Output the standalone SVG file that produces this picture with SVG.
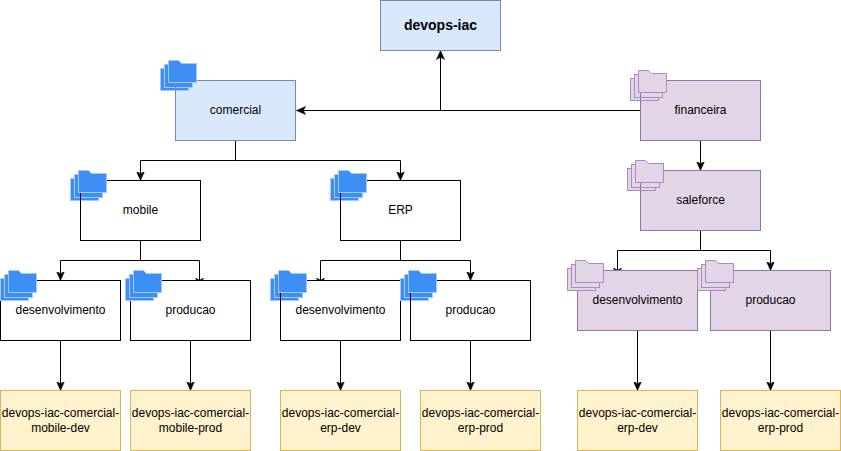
<svg xmlns="http://www.w3.org/2000/svg" width="841" height="451" viewBox="0 0 841 451">
<style>
text{font-family:"Liberation Sans",Arial,sans-serif;font-size:12px;fill:#000;text-anchor:middle}
.title{font-weight:bold;font-size:14px}
.plain{fill:#fff;stroke:#000}
.blue{fill:#dae8fc;stroke:#6c8ebf}
.purple{fill:#e1d5e7;stroke:#9673a6}
.yellow{fill:#fff2cc;stroke:#d6b656}
.outline{fill:none;stroke:#000}
.outline-blue{fill:none;stroke:#6c8ebf}
.outline-purple{fill:none;stroke:#9673a6}
.edge{fill:none;stroke:#000;stroke-width:1}
.fb{fill:#3d8ef5;stroke:#a3c9fa;stroke-width:1}
.fp{fill:#e1d5e7;stroke:#a98cb9;stroke-width:1}
</style>
<defs>
<marker id="arrow" markerUnits="userSpaceOnUse" markerWidth="10" markerHeight="10" refX="9" refY="4.5" orient="auto">
<path d="M9 4.5L0 0.5L2.2 4.5L0 8.5Z" fill="#000" stroke="#000" stroke-width="0.5"/>
</marker>
<g id="back"><rect x="0.5" y="8.5" width="28" height="22"/><rect x="4.5" y="4.5" width="28" height="23"/></g>
<path id="top" d="M8.5 0.5H18.5L21.5 3.5H36.5V22.5H8.5Z"/>
</defs>
<g id="connectors">
<path class="edge" marker-end="url(#arrow)" d="M640.5 110.5H296.5"/>
<path class="edge" marker-end="url(#arrow)" d="M440.5 110.5V50.5"/>
<path class="edge" marker-end="url(#arrow)" d="M700.5 140.5V170.5"/>
<path class="edge" marker-end="url(#arrow)" d="M235.5 140.5V160.5H140.5V180.5"/>
<path class="edge" marker-end="url(#arrow)" d="M235.5 140.5V160.5H400.5V180.5"/>
<path class="edge" marker-end="url(#arrow)" d="M140.5 240.5V260.5H60.5V280.5"/>
<path class="edge" marker-end="url(#arrow)" d="M140.5 240.5V260.5H199.5V287"/>
<path class="edge" marker-end="url(#arrow)" d="M400.5 240.5V260.5H320.5V287"/>
<path class="edge" marker-end="url(#arrow)" d="M400.5 240.5V260.5H470.5V280.5"/>
<path class="edge" marker-end="url(#arrow)" d="M700.5 230.5V250.5H617.5V277"/>
<path class="edge" marker-end="url(#arrow)" d="M700.5 230.5V250.5H770.5V270.5"/>
<path class="edge" marker-end="url(#arrow)" d="M60.5 340.5V390.5"/>
<path class="edge" marker-end="url(#arrow)" d="M190.5 340.5V390.5"/>
<path class="edge" marker-end="url(#arrow)" d="M340.5 340.5V390.5"/>
<path class="edge" marker-end="url(#arrow)" d="M470.5 340.5V390.5"/>
<path class="edge" marker-end="url(#arrow)" d="M637.5 330.5V390.5"/>
<path class="edge" marker-end="url(#arrow)" d="M770.5 330.5V390.5"/>
</g>
<g id="devops-iac"><rect class="blue" x="380.5" y="0.5" width="120" height="50"/><text class="title" x="440.5" y="30">devops-iac</text></g>
<g id="comercial"><rect class="blue" x="175.5" y="80.5" width="120" height="60"/><use class="fb" href="#back" x="160" y="60"/><rect class="outline-blue" x="175.5" y="80.5" width="120" height="60"/><use class="fb" href="#top" x="160" y="60"/><text x="235.5" y="114">comercial</text></g>
<g id="financeira"><rect class="purple" x="640.5" y="80.5" width="120" height="60"/><use class="fp" href="#back" x="630" y="70"/><rect class="outline-purple" x="640.5" y="80.5" width="120" height="60"/><use class="fp" href="#top" x="630" y="70"/><text x="700.5" y="114">financeira</text></g>
<g id="saleforce"><rect class="purple" x="640.5" y="170.5" width="120" height="60"/><use class="fp" href="#back" x="627" y="160"/><rect class="outline-purple" x="640.5" y="170.5" width="120" height="60"/><use class="fp" href="#top" x="627" y="160"/><text x="700.5" y="204">saleforce</text></g>
<g id="mobile"><rect class="plain" x="80.5" y="180.5" width="120" height="60"/><use class="fb" href="#back" x="70" y="170"/><rect class="outline" x="80.5" y="180.5" width="120" height="60"/><use class="fb" href="#top" x="70" y="170"/><text x="140.5" y="214">mobile</text></g>
<g id="erp"><rect class="plain" x="340.5" y="180.5" width="120" height="60"/><use class="fb" href="#back" x="330" y="170"/><rect class="outline" x="340.5" y="180.5" width="120" height="60"/><use class="fb" href="#top" x="330" y="170"/><text x="400.5" y="214">ERP</text></g>
<g id="mobile-desenvolvimento"><rect class="plain" x="0.5" y="280.5" width="120" height="60"/><use class="fb" href="#back" x="0" y="270"/><use class="fb" href="#top" x="0" y="270"/><text x="60.5" y="314">desenvolvimento</text></g>
<g id="mobile-producao"><rect class="plain" x="130.5" y="280.5" width="120" height="60"/><use class="fb" href="#back" x="125" y="270"/><use class="fb" href="#top" x="125" y="270"/><text x="190.5" y="314">producao</text></g>
<g id="erp-desenvolvimento"><rect class="plain" x="280.5" y="280.5" width="120" height="60"/><use class="fb" href="#back" x="270" y="270"/><rect class="outline" x="280.5" y="280.5" width="120" height="60"/><use class="fb" href="#top" x="270" y="270"/><text x="340.5" y="314">desenvolvimento</text></g>
<g id="erp-producao"><rect class="plain" x="410.5" y="280.5" width="120" height="60"/><use class="fb" href="#back" x="400" y="270"/><rect class="outline" x="410.5" y="280.5" width="120" height="60"/><use class="fb" href="#top" x="400" y="270"/><text x="470.5" y="314">producao</text></g>
<g id="saleforce-desenvolvimento"><rect class="purple" x="577.5" y="270.5" width="120" height="60"/><use class="fp" href="#back" x="567" y="260"/><use class="fp" href="#top" x="567" y="260"/><text x="637.5" y="304">desenvolvimento</text></g>
<g id="saleforce-producao"><rect class="purple" x="710.5" y="270.5" width="120" height="60"/><use class="fp" href="#back" x="697" y="260"/><use class="fp" href="#top" x="697" y="260"/><text x="770.5" y="304">producao</text></g>
<g id="repo-mobile-dev"><rect class="yellow" x="0.5" y="390.5" width="120" height="60"/><text x="60.5" y="417">devops-iac-comercial-</text><text x="60.5" y="432">mobile-dev</text></g>
<g id="repo-mobile-prod"><rect class="yellow" x="130.5" y="390.5" width="120" height="60"/><text x="190.5" y="417">devops-iac-comercial-</text><text x="190.5" y="432">mobile-prod</text></g>
<g id="repo-erp-dev"><rect class="yellow" x="280.5" y="390.5" width="120" height="60"/><text x="340.5" y="417">devops-iac-comercial-</text><text x="340.5" y="432">erp-dev</text></g>
<g id="repo-erp-prod"><rect class="yellow" x="420.5" y="390.5" width="120" height="60"/><text x="480.5" y="417">devops-iac-comercial-</text><text x="480.5" y="432">erp-prod</text></g>
<g id="repo-financeira-dev"><rect class="yellow" x="577.5" y="390.5" width="120" height="60"/><text x="637.5" y="417">devops-iac-comercial-</text><text x="637.5" y="432">erp-dev</text></g>
<g id="repo-financeira-prod"><rect class="yellow" x="720.5" y="390.5" width="120" height="60"/><text x="780.5" y="417">devops-iac-comercial-</text><text x="780.5" y="432">erp-prod</text></g>
</svg>
